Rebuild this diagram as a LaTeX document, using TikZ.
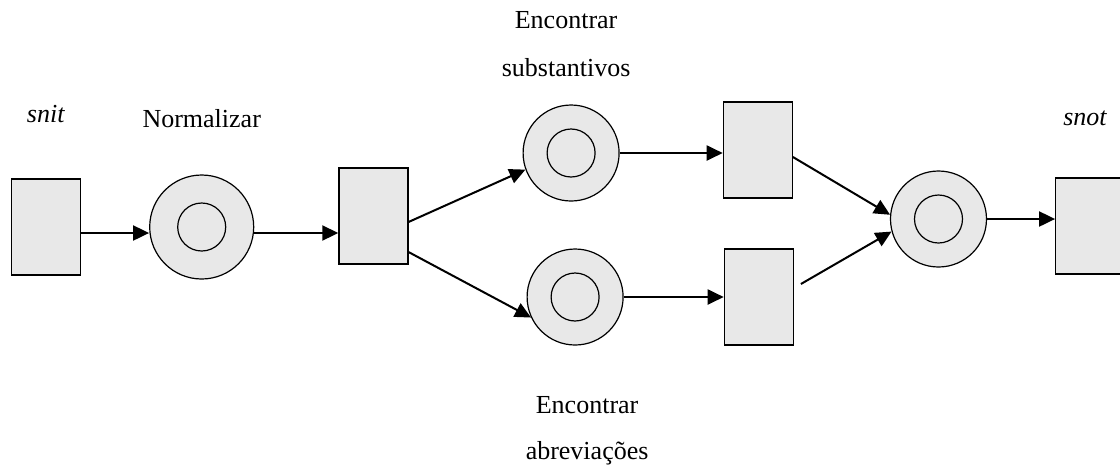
\documentclass[tikz,border=0pt]{standalone}
\usepackage{fontspec}
\setmainfont{Liberation Serif}
\usepackage{tikz}
\usetikzlibrary{positioning, arrows.meta}
\definecolor{cellgray}{RGB}{232,232,232}
\tikzstyle{Arrow} = [
	line width = 1pt,
	-{Triangle[length=8pt, width=7.5pt]}
	]

\begin{document}
\begin{tikzpicture}[
font = \fontsize{13}{15}\selectfont,
ring/.style={circle, draw, line width = 0.6pt, fill = cellgray,
	minimum size = 48pt, inner sep = 0pt,
	path picture={\draw[line width = 0.6pt] (path picture bounding box.center) circle (12pt);}
	},
cell/.style={rectangle, draw, line width = 0.6pt, fill = cellgray,
	minimum width = 34.5pt, minimum height = 48pt, inner sep = 0pt
	}
]
 \useasboundingbox (0,0) rectangle (560pt,-234pt);

 \node [cell] (snit) at (23pt,-113.5pt) {};
 \node [ring, minimum size = 52pt, right =34pt of snit] (c1) {};
 \node [cell, right =42pt of c1, yshift=5.5pt] (t1) {};
 \node [ring, right =57pt of t1, yshift=31.5pt] (cA) {};
 \node [ring, right =59pt of t1, yshift=-40.5pt] (cB) {};
 \node [cell, right =51.5pt of cA, yshift=1.5pt] (tA) {};
 \node [cell, right =50pt of cB] (tB) {};
 \node [ring, right =48.5pt of tA, yshift=-34.5pt] (c4) {};
 \node [cell, right =34pt of c4, yshift=-3.5pt] (snot) {};

 \node [above =28pt of snit, anchor=base] (lbsnit) {\textit{snit}};
 \node [above =23.5pt of c1, anchor=base] (lbnorm) {Normalizar};
 \node [above =14pt of cA, anchor=base, xshift=-2.5pt] (lbsubs) {substantivos};
 \node [above =24pt of lbsubs.base, anchor=base] (lbencA) {Encontrar};
 \node [below =34pt of cB, anchor=base, xshift=6pt] (lbencB) {Encontrar};
 \node [below =23pt of lbencB.base, anchor=base] (lbabrev) {abreviações};
 \node [above =26pt of snot, anchor=base, xshift=-2.5pt] (lbsnot) {\textit{snot}};

 \draw[Arrow] ([yshift=-3pt]snit.east) -- ([yshift=-3pt]c1.west);
 \draw[Arrow] ([yshift=-3pt]c1.east) -- ([yshift=-8.5pt]t1.west);

 \draw[Arrow] ([yshift=-3pt]t1.east) -- (cA.200);
 \draw[Arrow] ([yshift=-18pt]t1.east) -- (cB.205);

 \draw[Arrow] (cA.east) -- (cA.east -| tA.west);
 \draw[Arrow] (cB.east) -- (cB.east -| tB.west);

 \draw[Arrow] ([yshift=-3.5pt]tA.east) -- (c4.175);
 \draw[Arrow] ([xshift=3.5pt, yshift=6.5pt]tB.east) -- (c4.195);

 \draw[Arrow] (c4.east) -- (c4.east -| snot.west);

\end{tikzpicture}
\end{document}
